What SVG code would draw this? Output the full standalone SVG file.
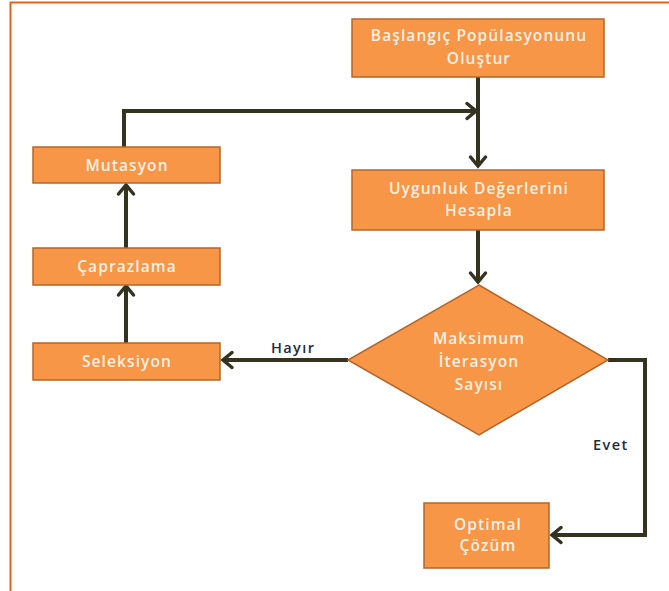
<svg xmlns="http://www.w3.org/2000/svg" width="669" height="591" viewBox="0 0 669 591">
  <style>
    .box { fill: #f79646; stroke: #b4652b; stroke-width: 1.5; }
    .lbl { font-family: "Open Sans", "Liberation Sans", sans-serif; font-size: 15.5px; font-weight: 600; fill: #fdf0e4; text-anchor: middle; letter-spacing: 1.1px; }
    .edge { fill: none; stroke: #35331f; stroke-width: 4; stroke-linejoin: miter; }
    .elbl { font-family: "Open Sans", "Liberation Sans", sans-serif; font-size: 14.5px; font-weight: 600; fill: #1f2a44; letter-spacing: 1.4px; }
  </style>
  <defs>
    <marker id="chev" markerUnits="userSpaceOnUse" markerWidth="20" markerHeight="20" viewBox="-12 -10 14 20" refX="0" refY="0" orient="auto">
      <path d="M-9,-7.5 L0,0 L-9,7.5" fill="none" stroke="#35331f" stroke-width="3.5" stroke-linecap="round" stroke-linejoin="miter"/>
    </marker>
  </defs>

  <rect width="669" height="591" fill="#ffffff"/>
  <!-- frame -->
  <path d="M10.5,591 V2.5 H669" fill="none" stroke="#d9661f" stroke-width="2"/>

  <g id="connectors">
    <path class="edge" d="M478,77 V166" marker-end="url(#chev)"/>
    <path class="edge" d="M124,147 V111 H476" marker-end="url(#chev)"/>
    <path class="edge" d="M478,230 V282" marker-end="url(#chev)"/>
    <path class="edge" d="M126,343 V286" marker-end="url(#chev)"/>
    <path class="edge" d="M126,248 V185" marker-end="url(#chev)"/>
    <path class="edge" d="M348,360 H223" marker-end="url(#chev)"/>
    <path class="edge" d="M608,360 H645 V535 H552" marker-end="url(#chev)"/>
    <text class="elbl" x="271" y="353">Hayır</text>
    <text class="elbl" x="593" y="450">Evet</text>
  </g>

  <g id="init">
    <rect class="box" x="352" y="19" width="252" height="58"/>
    <text class="lbl" x="479" y="41">Başlangıç Popülasyonunu</text>
    <text class="lbl" x="479" y="64">Oluştur</text>
  </g>

  <g id="fitness">
    <rect class="box" x="352" y="170" width="252" height="60"/>
    <text class="lbl" x="479" y="194">Uygunluk Değerlerini</text>
    <text class="lbl" x="479" y="216">Hesapla</text>
  </g>

  <g id="decision">
    <polygon class="box" points="479,285 608,360 479,435 348,360"/>
    <text class="lbl" x="479" y="344">Maksimum</text>
    <text class="lbl" x="479" y="367">İterasyon</text>
    <text class="lbl" x="479" y="390">Sayısı</text>
  </g>

  <g id="mutation">
    <rect class="box" x="33" y="147" width="187" height="36"/>
    <text class="lbl" x="127" y="171">Mutasyon</text>
  </g>

  <g id="crossover">
    <rect class="box" x="33" y="248" width="187" height="37"/>
    <text class="lbl" x="127" y="272">Çaprazlama</text>
  </g>

  <g id="selection">
    <rect class="box" x="33" y="343" width="187" height="37"/>
    <text class="lbl" x="127" y="367">Seleksiyon</text>
  </g>

  <g id="optimal">
    <rect class="box" x="424" y="503" width="125" height="65"/>
    <text class="lbl" x="488" y="530">Optimal</text>
    <text class="lbl" x="488" y="551">Çözüm</text>
  </g>
</svg>
